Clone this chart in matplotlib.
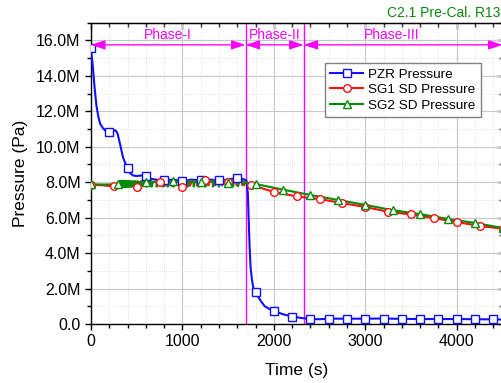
import numpy as np
import matplotlib
matplotlib.use("Agg")
import matplotlib.pyplot as plt
from matplotlib.lines import Line2D
from matplotlib.ticker import MultipleLocator, FuncFormatter

plt.rcParams['font.family'] = ['Liberation Sans', 'DejaVu Sans']

# PZR pressure (MPa)
pzr_t = np.array([0, 20, 40, 60, 80, 100, 130, 160, 200, 240, 270, 290, 320, 350, 380, 400,
                  430, 460, 500, 550, 600, 650, 700, 800, 900, 1000, 1100, 1200, 1300, 1400,
                  1500, 1600, 1650, 1700, 1715, 1725, 1735, 1745, 1760, 1775, 1800, 1850, 1900,
                  1950, 2000, 2100, 2200, 2300, 2400, 2500, 2600, 2800, 3000, 3200, 3400, 3600,
                  3800, 4000, 4200, 4400, 4500])
pzr_p = np.array([15.55, 14.5, 13.3, 12.3, 11.7, 11.3, 11.05, 10.9, 10.85, 10.9, 10.92, 10.75,
                  10.1, 9.4, 9.0, 8.8, 8.5, 8.38, 8.35, 8.38, 8.36, 8.2, 8.15, 8.1, 8.15, 8.05,
                  8.15, 8.1, 8.15, 8.1, 8.15, 8.25, 8.2, 8.1, 7.4, 5.8, 4.3, 3.2, 2.5, 2.05,
                  1.78, 1.35, 1.0, 0.85, 0.74, 0.55, 0.42, 0.34, 0.28, 0.27, 0.3, 0.3, 0.3,
                  0.31, 0.29, 0.28, 0.28, 0.28, 0.27, 0.26, 0.25])

# SG1 steam dome pressure (MPa)
sg1_t = np.array([0, 120, 250, 300,
                  330, 333, 345, 362, 365, 377, 395, 398, 410, 430, 433, 445, 465, 468, 480,
                  497, 500, 512, 560, 563, 575, 640, 643, 655, 720, 723, 735, 750,
                  800, 803, 815, 880, 883, 895, 960, 963, 975, 997, 1000, 1012,
                  1080, 1083, 1095, 1160, 1163, 1175, 1250, 1280, 1283, 1295, 1355, 1358, 1370,
                  1430, 1433, 1445, 1500, 1520, 1523, 1535, 1590, 1593, 1605, 1650, 1653, 1665,
                  1700, 1750, 2000, 2250, 2500, 2750, 3000, 3250, 3500, 3750, 4000, 4250, 4500])
sg1_p = np.array([7.85, 7.83, 7.76, 7.82,
                  8.02, 7.76, 7.96, 8.03, 7.76, 7.96, 8.03, 7.76, 7.96, 8.03, 7.76, 7.96, 8.03, 7.76, 7.96,
                  8.03, 7.72, 7.96, 8.04, 7.78, 7.97, 8.04, 7.78, 7.98, 8.04, 7.78, 7.98, 8.0,
                  8.05, 7.78, 7.98, 8.05, 7.78, 7.98, 8.05, 7.78, 7.98, 8.04, 7.74, 7.98,
                  8.06, 7.8, 7.98, 8.08, 7.8, 8.0, 8.12, 8.1, 7.82, 8.0, 8.1, 7.82, 8.0,
                  8.1, 7.82, 8.0, 8.02, 8.1, 7.82, 8.0, 8.1, 7.82, 8.0, 8.08, 7.84, 8.0,
                  7.95, 7.85, 7.45, 7.2, 7.05, 6.82, 6.6, 6.33, 6.18, 5.97, 5.75, 5.53, 5.38])

# SG2 steam dome pressure (MPa)
sg2_t = np.array([0, 150, 300,
                  310, 313, 319, 324, 327, 333, 338, 341, 347, 352, 355, 361, 366, 369, 375,
                  380, 383, 389, 395, 398, 404, 410, 413, 419, 426, 429, 436, 444, 447, 455,
                  464, 467, 476, 486, 489, 499, 512, 515, 526, 548, 551, 562, 600, 605, 608, 620,
                  660, 663, 675, 715, 718, 730, 780, 783, 795, 835, 838, 850, 900, 903, 915,
                  975, 978, 990, 1055, 1058, 1070, 1120, 1123, 1135, 1175, 1178, 1190, 1200,
                  1250, 1253, 1265, 1330, 1333, 1345, 1395, 1398, 1410, 1470, 1473, 1485, 1500,
                  1550, 1553, 1565, 1605, 1608, 1620, 1670, 1673, 1685,
                  1700, 1800, 2100, 2400, 2700, 3000, 3300, 3600, 3900, 4200, 4500])
sg2_p = np.array([7.88, 7.87, 7.88,
                  8.07, 7.73, 7.98, 8.08, 7.72, 7.98, 8.08, 7.73, 7.98, 8.08, 7.72, 7.97, 8.08, 7.73, 7.98,
                  8.08, 7.72, 7.98, 8.07, 7.73, 7.98, 8.07, 7.74, 7.98, 8.06, 7.74, 7.98, 8.06, 7.74, 7.97,
                  8.06, 7.74, 7.98, 8.06, 7.75, 7.98, 8.06, 7.75, 7.98, 8.06, 7.75, 7.98, 8.02, 8.05, 7.75, 7.98,
                  8.06, 7.75, 7.98, 8.06, 7.75, 7.99, 8.06, 7.75, 7.99, 8.06, 7.75, 7.99, 8.06, 7.75, 7.99,
                  8.06, 7.75, 7.99, 8.07, 7.75, 8.0, 8.07, 7.75, 8.0, 8.07, 7.75, 8.0, 8.03,
                  8.07, 7.75, 8.0, 8.08, 7.75, 8.0, 8.08, 7.75, 8.0, 8.08, 7.74, 7.9, 7.95,
                  8.06, 7.76, 8.0, 8.06, 7.78, 8.0, 8.06, 7.82, 8.0,
                  7.97, 7.9, 7.58, 7.28, 7.0, 6.72, 6.42, 6.2, 5.93, 5.7, 5.42])

phase_edges = [0, 1690, 2325, 4500]
phase_names = ["Phase-I", "Phase-II", "Phase-III"]
phase_text_x = [845, 2008, 3290]

magenta = "#FF00FF"
blue = "#1010FF"
red = "#FF1010"
green = "#078A07"

fig = plt.figure(figsize=(5.01, 3.83), dpi=100)
ax = fig.add_axes([91 / 501, 59 / 383, 411.5 / 501, 301.3 / 383])

series = [
    (pzr_t, pzr_p, blue, "s", 200, "PZR Pressure"),
    (sg1_t, sg1_p, red, "o", 250, "SG1 SD Pressure"),
    (sg2_t, sg2_p, green, "^", 300, "SG2 SD Pressure"),
]
handles = []
for t, p, c, m, step, lab in series:
    ax.plot(t, p, color=c, lw=1.5, zorder=3)
    sel = (t % step == 0) & (t <= 4400 + (step != 200) * 100)
    ax.plot(t[sel], p[sel], ls="none", marker=m, ms=5.5, mfc="white", mec=c, mew=1.0, zorder=4)
    handles.append(Line2D([], [], color=c, lw=1.5, marker=m, ms=5.5, mfc="white", mec=c, mew=1.0, label=lab))

# phase markers
for xv in phase_edges[1:3]:
    ax.axvline(xv, color=magenta, lw=1.0, zorder=2)
for i, name in enumerate(phase_names):
    ax.annotate("", xy=(phase_edges[i + 1], 15.75), xytext=(phase_edges[i], 15.75),
                arrowprops=dict(arrowstyle="<|-|>,head_length=0.6,head_width=0.2",
                                color=magenta, lw=1.0, mutation_scale=14,
                                shrinkA=0, shrinkB=0), zorder=5)
    ax.text(phase_text_x[i], 16.3, name, color=magenta, fontsize=10, ha="center", va="center")

ax.set_xlim(0, 4500)
ax.set_ylim(0, 17)
ax.xaxis.set_major_locator(MultipleLocator(1000))
ax.xaxis.set_minor_locator(MultipleLocator(200))
ax.yaxis.set_major_locator(MultipleLocator(2))
ax.yaxis.set_minor_locator(MultipleLocator(1))
ax.yaxis.set_major_formatter(FuncFormatter(lambda v, pos: "0.0" if v == 0 else f"{v:.1f}M"))

ax.grid(which="major", color="#c8c8c8", lw=0.8)
ax.grid(which="minor", color="#d8d8d8", lw=0.6, ls=":")
ax.set_axisbelow(True)

ax.tick_params(which="major", direction="out", length=4.5, width=1.0, labelsize=11.5, pad=3)
ax.tick_params(which="minor", direction="out", length=3, width=1.0)
for sp in ax.spines.values():
    sp.set_linewidth(1.0)

# inward ticks on top and right
top = ax.secondary_xaxis("top")
top.xaxis.set_major_locator(MultipleLocator(1000))
top.xaxis.set_minor_locator(MultipleLocator(200))
top.tick_params(which="both", direction="in", labeltop=False, width=1.0)
top.tick_params(which="major", length=4.5)
top.tick_params(which="minor", length=3)
right = ax.secondary_yaxis("right")
right.yaxis.set_major_locator(MultipleLocator(2))
right.yaxis.set_minor_locator(MultipleLocator(1))
right.tick_params(which="both", direction="in", labelright=False, width=1.0)
right.tick_params(which="major", length=4.5)
right.tick_params(which="minor", length=3)

ax.set_xlabel("Time (s)", fontsize=12.5, labelpad=10)
ax.set_ylabel("Pressure (Pa)", fontsize=12.5, labelpad=6)

ax.legend(handles=handles, loc="upper left", bbox_to_anchor=(325 / 501, 1 - 63 / 383),
          bbox_transform=fig.transFigure, borderaxespad=0, fontsize=9.7, frameon=True,
          fancybox=False, framealpha=1, edgecolor="#808080", handlelength=2.4,
          labelspacing=0.22, handletextpad=0.4, borderpad=0.4)

fig.text(0.998, 1 - 13 / 383, "C2.1 Pre-Cal. R13", color=green, fontsize=10,
         ha="right", va="center")

fig.savefig("out.png", dpi=100)
